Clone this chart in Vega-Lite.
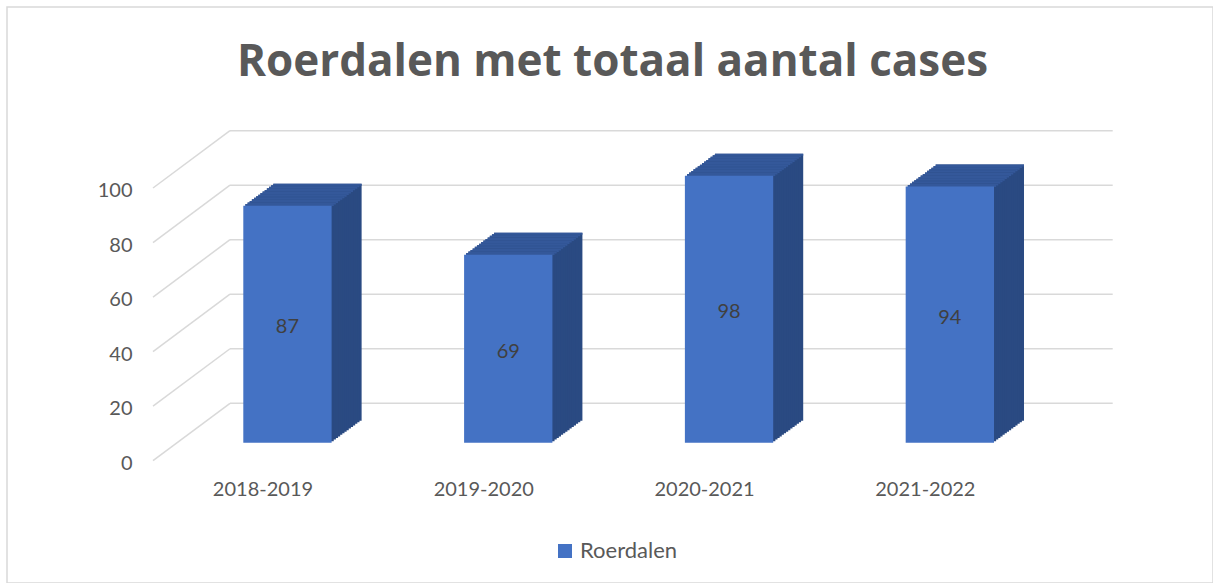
{
  "$schema": "https://vega.github.io/schema/vega-lite/v6.json",
  "autosize": {"type": "none"},
  "padding": {"left": 7, "top": 7, "right": 0, "bottom": 0},
  "width": 1206,
  "height": 576,
  "background": "#ffffff",
  "config": {
    "font": "Lato",
    "view": {"stroke": "#d9d9d9", "strokeWidth": 1.5}
  },
  "title": {
    "text": "Roerdalen met totaal aantal cases",
    "font": "Open Sans",
    "fontSize": 44,
    "fontWeight": "bold",
    "color": "#595959",
    "anchor": "middle",
    "frame": "group",
    "orient": "top",
    "baseline": "alphabetic",
    "offset": -113,
    "dx": 2.5
  },
  "datasets": {
    "cases": [
      {"season": "2018-2019", "cases": 87, "series": "Roerdalen"},
      {"season": "2019-2020", "cases": 69, "series": "Roerdalen"},
      {"season": "2020-2021", "cases": 98, "series": "Roerdalen"},
      {"season": "2021-2022", "cases": 94, "series": "Roerdalen"}
    ],
    "grid": [{"v": 0}, {"v": 20}, {"v": 40}, {"v": 60}, {"v": 80}, {"v": 100}]
  },
  "layer": [
    {
      "data": {"name": "grid"},
      "mark": {"type": "rule", "color": "#d9d9d9", "strokeWidth": 1.5},
      "encoding": {
        "x": {"datum": 0, "type": "quantitative", "scale": {"domain": [0, 1], "range": [223, 1105.7]}, "axis": null},
        "x2": {"datum": 1},
        "y": {"field": "v", "type": "quantitative", "scale": {"domain": [0, 100], "range": [396.3, 123.7], "nice": false, "zero": true}, "axis": null}
      }
    },
    {
      "data": {"name": "grid"},
      "mark": {"type": "rule", "color": "#d9d9d9", "strokeWidth": 1.5, "y2Offset": -57.4},
      "encoding": {
        "x": {"datum": 0, "type": "quantitative", "scale": {"domain": [0, 1], "range": [146, 223]}, "axis": null},
        "x2": {"datum": 1},
        "y": {
          "field": "v", "type": "quantitative",
          "scale": {"domain": [0, 100], "range": [453.7, 181], "nice": false, "zero": true},
          "axis": {
            "orient": "left", "offset": -125, "labelPadding": 0, "tickSize": 0, "ticks": false,
            "domain": false, "grid": false, "labelFont": "Lato", "labelFontSize": 20,
            "labelColor": "#595959", "labelOffset": 2.5, "labelFlush": false, "title": null,
            "values": [0, 20, 40, 60, 80, 100]
          }
        },
        "y2": {"field": "v"}
      }
    },
    {
      "data": {"name": "cases"},
      "encoding": {
        "x": {
          "field": "season", "type": "nominal", "sort": null,
          "scale": {"type": "band", "range": [236.3, 987], "paddingInner": 0.6, "paddingOuter": 0},
          "axis": {
            "orient": "bottom", "offset": -104, "labelPadding": 0, "tickSize": 0, "ticks": false,
            "domain": false, "grid": false, "labelAngle": 0, "labelFont": "Lato", "labelFontSize": 20,
            "labelColor": "#595959", "labelOffset": -24.5, "title": null
          }
        },
        "y": {"field": "cases", "type": "quantitative", "scale": {"domain": [0, 100], "range": [435.7, 163.2], "nice": false, "zero": true}, "axis": null}
      },
      "layer": [
        {"mark": {"type": "bar", "color": "#2A4A82", "xOffset": 30, "yOffset": -22, "y2Offset": -22}},
        {"mark": {"type": "bar", "color": "#34589A", "xOffset": 30, "yOffset": -22, "y2Offset": -20}, "encoding": {"y2": {"field": "cases"}}},
        {"mark": {"type": "bar", "color": "#2A4A82", "xOffset": 27.86, "yOffset": -20.43, "y2Offset": -20.43}},
        {"mark": {"type": "bar", "color": "#34589A", "xOffset": 27.86, "yOffset": -20.43, "y2Offset": -18.43}, "encoding": {"y2": {"field": "cases"}}},
        {"mark": {"type": "bar", "color": "#2A4A82", "xOffset": 25.71, "yOffset": -18.86, "y2Offset": -18.86}},
        {"mark": {"type": "bar", "color": "#34589A", "xOffset": 25.71, "yOffset": -18.86, "y2Offset": -16.86}, "encoding": {"y2": {"field": "cases"}}},
        {"mark": {"type": "bar", "color": "#2A4A82", "xOffset": 23.57, "yOffset": -17.29, "y2Offset": -17.29}},
        {"mark": {"type": "bar", "color": "#34589A", "xOffset": 23.57, "yOffset": -17.29, "y2Offset": -15.29}, "encoding": {"y2": {"field": "cases"}}},
        {"mark": {"type": "bar", "color": "#2A4A82", "xOffset": 21.43, "yOffset": -15.71, "y2Offset": -15.71}},
        {"mark": {"type": "bar", "color": "#34589A", "xOffset": 21.43, "yOffset": -15.71, "y2Offset": -13.71}, "encoding": {"y2": {"field": "cases"}}},
        {"mark": {"type": "bar", "color": "#2A4A82", "xOffset": 19.29, "yOffset": -14.14, "y2Offset": -14.14}},
        {"mark": {"type": "bar", "color": "#34589A", "xOffset": 19.29, "yOffset": -14.14, "y2Offset": -12.14}, "encoding": {"y2": {"field": "cases"}}},
        {"mark": {"type": "bar", "color": "#2A4A82", "xOffset": 17.14, "yOffset": -12.57, "y2Offset": -12.57}},
        {"mark": {"type": "bar", "color": "#34589A", "xOffset": 17.14, "yOffset": -12.57, "y2Offset": -10.57}, "encoding": {"y2": {"field": "cases"}}},
        {"mark": {"type": "bar", "color": "#2A4A82", "xOffset": 15, "yOffset": -11, "y2Offset": -11}},
        {"mark": {"type": "bar", "color": "#34589A", "xOffset": 15, "yOffset": -11, "y2Offset": -9}, "encoding": {"y2": {"field": "cases"}}},
        {"mark": {"type": "bar", "color": "#2A4A82", "xOffset": 12.86, "yOffset": -9.43, "y2Offset": -9.43}},
        {"mark": {"type": "bar", "color": "#34589A", "xOffset": 12.86, "yOffset": -9.43, "y2Offset": -7.43}, "encoding": {"y2": {"field": "cases"}}},
        {"mark": {"type": "bar", "color": "#2A4A82", "xOffset": 10.71, "yOffset": -7.86, "y2Offset": -7.86}},
        {"mark": {"type": "bar", "color": "#34589A", "xOffset": 10.71, "yOffset": -7.86, "y2Offset": -5.86}, "encoding": {"y2": {"field": "cases"}}},
        {"mark": {"type": "bar", "color": "#2A4A82", "xOffset": 8.57, "yOffset": -6.29, "y2Offset": -6.29}},
        {"mark": {"type": "bar", "color": "#34589A", "xOffset": 8.57, "yOffset": -6.29, "y2Offset": -4.29}, "encoding": {"y2": {"field": "cases"}}},
        {"mark": {"type": "bar", "color": "#2A4A82", "xOffset": 6.43, "yOffset": -4.71, "y2Offset": -4.71}},
        {"mark": {"type": "bar", "color": "#34589A", "xOffset": 6.43, "yOffset": -4.71, "y2Offset": -2.71}, "encoding": {"y2": {"field": "cases"}}},
        {"mark": {"type": "bar", "color": "#2A4A82", "xOffset": 4.29, "yOffset": -3.14, "y2Offset": -3.14}},
        {"mark": {"type": "bar", "color": "#34589A", "xOffset": 4.29, "yOffset": -3.14, "y2Offset": -1.14}, "encoding": {"y2": {"field": "cases"}}},
        {"mark": {"type": "bar", "color": "#2A4A82", "xOffset": 2.14, "yOffset": -1.57, "y2Offset": -1.57}},
        {"mark": {"type": "bar", "color": "#34589A", "xOffset": 2.14, "yOffset": -1.57, "y2Offset": 0.43}, "encoding": {"y2": {"field": "cases"}}},
        {
          "mark": {"type": "bar"},
          "encoding": {
            "color": {
              "field": "series", "type": "nominal",
              "scale": {"range": ["#4472C4"]},
              "legend": {
                "orient": "none", "legendX": 547, "legendY": 533, "title": null, "direction": "horizontal",
                "symbolType": "square", "symbolSize": 196, "symbolStrokeWidth": 0,
                "labelFont": "Lato", "labelFontSize": 22, "labelColor": "#595959", "labelOffset": 4, "padding": 0
              }
            }
          }
        }
      ]
    },
    {
      "data": {"name": "cases"},
      "mark": {"type": "text", "font": "Lato", "fontSize": 20, "color": "#404040", "baseline": "middle", "align": "center", "yOffset": 3},
      "encoding": {
        "x": {"field": "season", "type": "nominal", "sort": null, "scale": {"type": "band", "range": [236.3, 987], "paddingInner": 0.6, "paddingOuter": 0}, "axis": null},
        "y": {"field": "cases", "type": "quantitative", "scale": {"domain": [0, 200], "range": [435.7, 163.2], "nice": false, "zero": true}, "axis": null},
        "text": {"field": "cases", "type": "quantitative"}
      }
    }
  ],
  "resolve": {"scale": {"x": "independent", "y": "independent"}}
}
